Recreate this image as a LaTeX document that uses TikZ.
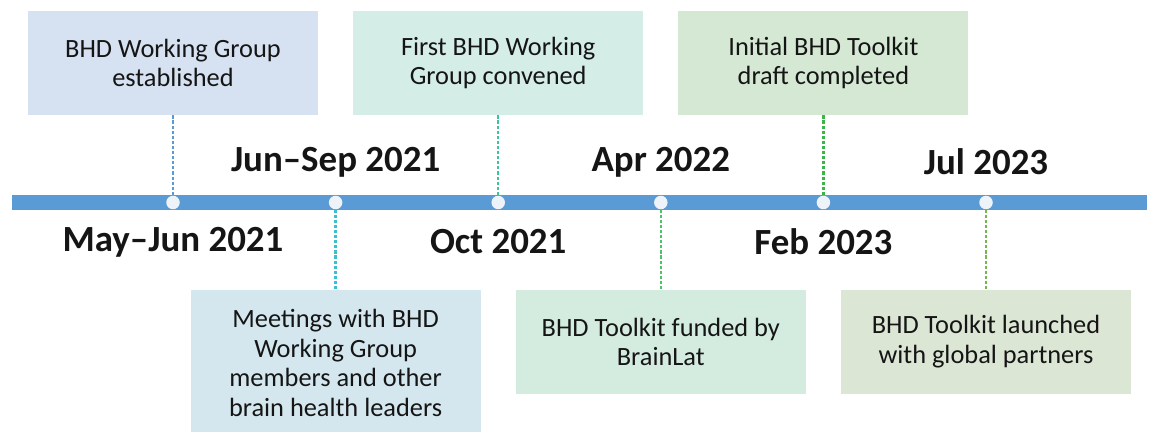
\documentclass[tikz,border=0pt]{standalone}
\usepackage{fontspec}
\setmainfont{Carlito}
\usepackage{tikz}
\usetikzlibrary{positioning}

\definecolor{barblue}{HTML}{5B9BD5}
\definecolor{dotwhite}{HTML}{EEF3FA}
\definecolor{inkgray}{HTML}{151515}
\definecolor{boxA}{HTML}{D6E1F1}
\definecolor{boxB}{HTML}{D4EDE7}
\definecolor{boxC}{HTML}{D5E8D4}
\definecolor{boxD}{HTML}{D5E7EE}
\definecolor{boxE}{HTML}{D4EBDF}
\definecolor{boxF}{HTML}{DCE6D5}
\definecolor{lineA}{HTML}{5B9BD5}
\definecolor{lineB}{HTML}{3DC49C}
\definecolor{lineC}{HTML}{3BB54A}
\definecolor{lineD}{HTML}{3DBFD0}
\definecolor{lineE}{HTML}{4DC46C}
\definecolor{lineF}{HTML}{72B84C}

\begin{document}
\begin{tikzpicture}[node distance=3.252cm,on grid,
	every node/.style={text=inkgray},
	milestone/.style={circle,fill=dotwhite,minimum size=0.27cm,inner sep=0pt},
	event/.style={align=center,minimum width=5.8cm,minimum height=2.08cm,inner sep=0pt,font=\fontsize{15}{17}\selectfont},
	when/.style={font=\bfseries\fontsize{21}{25}\selectfont},
	link/.style={dash pattern=on 1.8pt off 1.1pt,line width=1.3pt}]
	\useasboundingbox (0,-4.59) rectangle (22.98,4.05);
	\fill[barblue] (0.24,-0.15) rectangle (22.94,0.15);
	% milestones on the bar
	\node[milestone] (d1) at (3.46,0) {};
	\node[milestone] (d2) [right=of d1] {};
	\node[milestone] (d3) [right=of d2] {};
	\node[milestone] (d4) [right=of d3] {};
	\node[milestone] (d5) [right=of d4] {};
	\node[milestone] (d6) [right=of d5] {};
	% dates
	\node[when] (w1) [below=0.79cm of d1] {May--Jun 2021};
	\node[when] (w2) [above=0.81cm of d2] {Jun--Sep 2021};
	\node[when] (w3) [below=0.79cm of d3] {Oct 2021};
	\node[when] (w4) [above=0.81cm of d4] {Apr 2022};
	\node[when] (w5) [below=0.79cm of d5] {Feb 2023};
	\node[when] (w6) [above=0.81cm of d6] {Jul 2023};
	% events
	\node[event,fill=boxA] (e1) [above=2.79cm of d1] {BHD Working Group\\established};
	\node[event,fill=boxD,minimum height=2.92cm] (e2) [below=3.21cm of d2] {Meetings with BHD\\Working Group\\members and other\\brain health leaders};
	\node[event,fill=boxB] (e3) [above=2.79cm of d3] {First BHD Working\\Group convened};
	\node[event,fill=boxE] (e4) [below=2.79cm of d4] {BHD Toolkit funded by\\BrainLat};
	\node[event,fill=boxC] (e5) [above=2.79cm of d5] {Initial BHD Toolkit\\draft completed};
	\node[event,fill=boxF] (e6) [below=2.79cm of d6] {BHD Toolkit launched\\with global partners};
	\path
	(e1) edge[link,draw=lineA] (d1)
	(d2) edge[link,draw=lineD] (e2)
	(e3) edge[link,draw=lineB] (d3)
	(d4) edge[link,draw=lineE] (e4)
	(e5) edge[link,draw=lineC] (d5)
	(d6) edge[link,draw=lineF] (e6);
\end{tikzpicture}
\end{document}
